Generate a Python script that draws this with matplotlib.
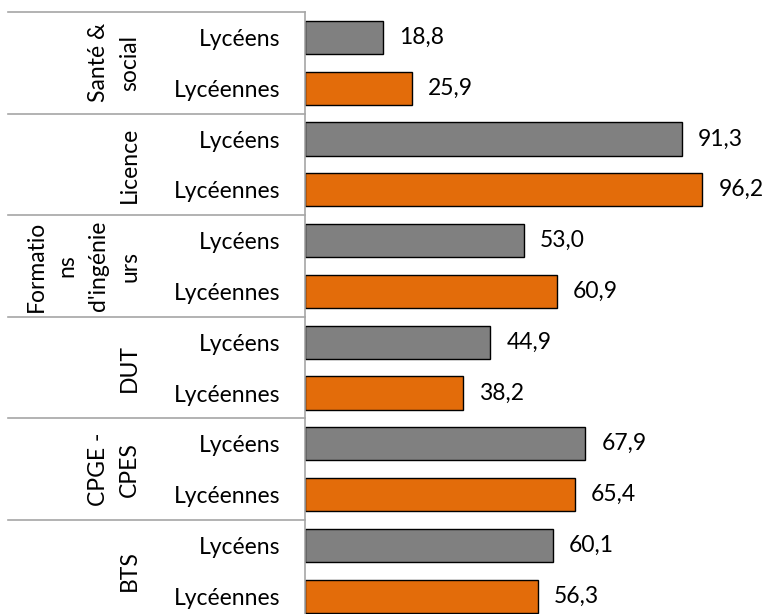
import matplotlib
matplotlib.use("Agg")
import matplotlib.pyplot as plt
from matplotlib.transforms import blended_transform_factory
from matplotlib.lines import Line2D

# Data, top to bottom
groups = ["Santé &\nsocial", "Licence", "Formatio\nns\nd'ingénie\nurs", "DUT", "CPGE -\nCPES", "BTS"]
series_names = ["Lycéens", "Lycéennes"]
lyceens = [18.8, 91.3, 53.0, 44.9, 67.9, 60.1]
lyceennes = [25.9, 96.2, 60.9, 38.2, 65.4, 56.3]
colors = ["#808080", "#E36C0A"]

plt.rcParams["font.family"] = ["Lato", "DejaVu Sans"]
FS = 16.5

W, H = 766, 614
fig = plt.figure(figsize=(W / 100, H / 100), dpi=100)
# plot area in pixels: x from 305 to right edge, y from 12 to ~622 (bottom is cut)
left_px, top_px, slot_px = 305, 12, 50.8
n_slots = 2 * len(groups)
bottom_px = top_px + n_slots * slot_px
ax = fig.add_axes([left_px / W, 1 - bottom_px / H, 1 - left_px / W, (bottom_px - top_px) / H])

px_per_unit = 4.13
ax.set_xlim(0, (W - left_px) / px_per_unit)
ax.set_ylim(n_slots, 0)

ypos, vals, cols, ticklabels = [], [], [], []
for i in range(len(groups)):
    for j, series in enumerate([lyceens, lyceennes]):
        y = 2 * i + j + 0.5
        ypos.append(y)
        vals.append(series[i])
        cols.append(colors[j])
        ticklabels.append(series_names[j])

ax.barh(ypos, vals, height=0.65, color=cols, edgecolor="black", linewidth=1.0)
for y, v in zip(ypos, vals):
    ax.text(v + 16 / px_per_unit, y, f"{v:.1f}".replace(".", ","), va="center", ha="left", fontsize=FS)

ax.set_yticks(ypos, ticklabels, fontsize=FS)
ax.tick_params(axis="y", length=0, pad=18)
ax.set_xticks([])
for s in ["top", "right", "bottom"]:
    ax.spines[s].set_visible(False)
ax.spines["left"].set_color("#a6a6a6")
ax.spines["left"].set_linewidth(1.2)

# group labels and separators
tr = blended_transform_factory(fig.transFigure, ax.transData)
for i, g in enumerate(groups):
    ax.text(140 / W, 2 * i + 1, g, transform=tr, rotation=90, ha="right", va="center",
            multialignment="center", fontsize=FS, linespacing=1.6)
    ln = Line2D([8 / W, left_px / W], [2 * i, 2 * i], transform=tr, color="#a6a6a6",
                linewidth=1.2, clip_on=False)
    fig.add_artist(ln)

fig.savefig("out.png", dpi=100)
